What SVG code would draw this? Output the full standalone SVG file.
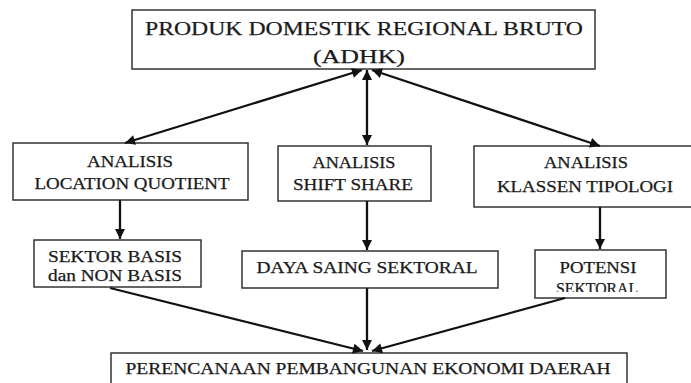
<svg xmlns="http://www.w3.org/2000/svg" width="691" height="383" viewBox="0 0 691 383">
<style>
.box{fill:#fff;stroke:#333;stroke-width:1.5}
.t{font-family:"Liberation Serif","Times New Roman",serif;fill:#1a1a1a;stroke:#1a1a1a;stroke-width:0.25;text-anchor:middle}
.c{stroke:#111;stroke-width:2.3;fill:none}
</style>
<defs>
<marker id="ah" viewBox="0 0 10 10" refX="10" refY="5" markerWidth="11" markerHeight="10" markerUnits="userSpaceOnUse" orient="auto-start-reverse">
<path d="M0,0 L10,5 L0,10 Z" fill="#111"/>
</marker>
<clipPath id="clipPot"><rect x="535" y="250" width="131" height="42"/></clipPath>
</defs>
<rect width="691" height="383" fill="#fff"/>
<g id="pdrb">
<rect class="box" x="132" y="10" width="463" height="59"/>
<text class="t" x="364" y="35" font-size="19.5" textLength="438" lengthAdjust="spacingAndGlyphs">PRODUK DOMESTIK REGIONAL BRUTO</text>
<text class="t" x="359" y="63" font-size="19.5" textLength="92" lengthAdjust="spacingAndGlyphs">(ADHK)</text>
</g>
<g id="lq">
<rect class="box" x="13" y="143" width="235" height="57"/>
<text class="t" x="130" y="167" font-size="16.5" textLength="86" lengthAdjust="spacingAndGlyphs">ANALISIS</text>
<text class="t" x="132" y="189" font-size="16.5" textLength="195" lengthAdjust="spacingAndGlyphs">LOCATION QUOTIENT</text>
</g>
<g id="ss">
<rect class="box" x="278" y="146" width="153" height="55"/>
<text class="t" x="354" y="168" font-size="16.5" textLength="83" lengthAdjust="spacingAndGlyphs">ANALISIS</text>
<text class="t" x="353" y="190" font-size="16.5" textLength="120" lengthAdjust="spacingAndGlyphs">SHIFT SHARE</text>
</g>
<g id="kt">
<rect class="box" x="474" y="146" width="220" height="61"/>
<text class="t" x="586" y="168" font-size="16.5" textLength="84" lengthAdjust="spacingAndGlyphs">ANALISIS</text>
<text class="t" x="585" y="192" font-size="16.5" textLength="176" lengthAdjust="spacingAndGlyphs">KLASSEN  TIPOLOGI</text>
</g>
<g id="sb">
<rect class="box" x="34" y="240" width="167" height="47"/>
<text class="t" x="115" y="262" font-size="16.5" textLength="134" lengthAdjust="spacingAndGlyphs">SEKTOR BASIS</text>
<text class="t" x="115" y="281" font-size="16.5" textLength="134" lengthAdjust="spacingAndGlyphs">dan NON BASIS</text>
</g>
<g id="ds">
<rect class="box" x="242" y="251" width="256" height="37"/>
<text class="t" x="367" y="273" font-size="16.5" textLength="221" lengthAdjust="spacingAndGlyphs">DAYA  SAING SEKTORAL</text>
</g>
<g id="ps">
<rect class="box" x="535" y="250" width="131" height="48"/>
<text class="t" x="598" y="273" font-size="16.5" textLength="77" lengthAdjust="spacingAndGlyphs">POTENSI</text>
<text class="t" x="599" y="294" font-size="16.5" textLength="86" lengthAdjust="spacingAndGlyphs" clip-path="url(#clipPot)">SEKTORAL.</text>
</g>
<g id="ped">
<rect class="box" x="111" y="353" width="516" height="36"/>
<text class="t" x="368" y="374" font-size="16.5" textLength="485" lengthAdjust="spacingAndGlyphs">PERENCANAAN  PEMBANGUNAN  EKONOMI  DAERAH</text>
</g>
<g id="connectors">
<line class="c" x1="362" y1="70" x2="125" y2="143" marker-start="url(#ah)" marker-end="url(#ah)"/>
<line class="c" x1="367" y1="70" x2="367" y2="145" marker-start="url(#ah)" marker-end="url(#ah)"/>
<line class="c" x1="372" y1="70" x2="600" y2="146" marker-start="url(#ah)" marker-end="url(#ah)"/>
<line class="c" x1="120" y1="200" x2="120" y2="239" marker-end="url(#ah)"/>
<line class="c" x1="367" y1="201" x2="367" y2="250" marker-end="url(#ah)"/>
<line class="c" x1="600" y1="207" x2="600" y2="249" marker-end="url(#ah)"/>
<line class="c" x1="110" y1="288" x2="363" y2="351" marker-end="url(#ah)"/>
<line class="c" x1="367" y1="288" x2="367" y2="350" marker-end="url(#ah)"/>
<line class="c" x1="565" y1="298" x2="372" y2="351" marker-end="url(#ah)"/>
</g>
</svg>
